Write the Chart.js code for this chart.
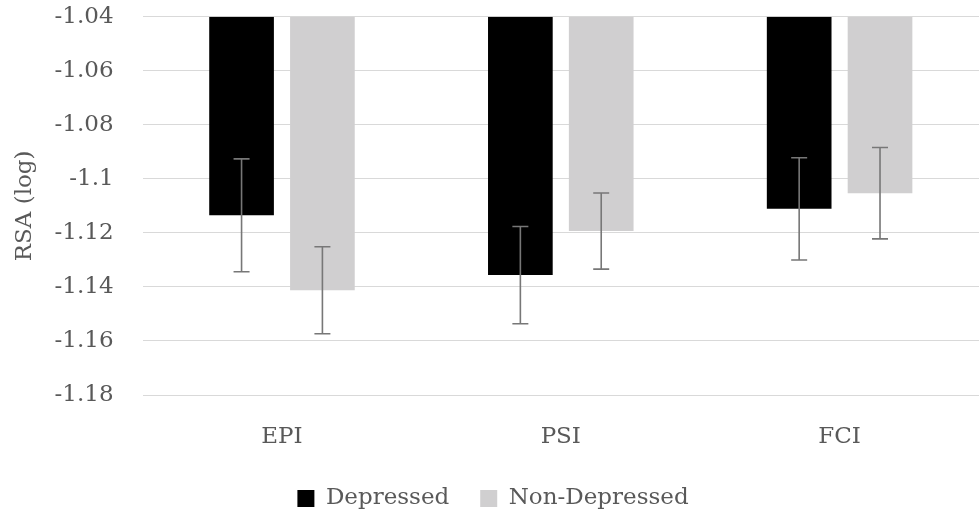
<!DOCTYPE html>
<html>
<head>
<meta charset="utf-8">
<script src="https://cdn.jsdelivr.net/npm/chart.js@4"></script>
<style>
  html, body { margin: 0; padding: 0; background: #fff; }
  #wrap { width: 979px; height: 515px; position: relative; }
</style>
</head>
<body>
<div id="wrap"><canvas id="rsaChart"></canvas></div>
<script>
// RSA (log) por condición
const categorias = ['EPI', 'PSI', 'FCI'];
const deprimidos = [-1.1135, -1.1356, -1.1111];
const noDeprimidos = [-1.1412, -1.1193, -1.1053];
const errDeprimidos = [0.0209, 0.0180, 0.0189];
const errNoDeprimidos = [0.0161, 0.0141, 0.0169];
const ticksY = [-1.18, -1.16, -1.14, -1.12, -1.1, -1.08, -1.06, -1.04];
const techo = -1.04; // las barras cuelgan desde arriba

const fuente = 'DejaVu Serif';
const gris = '#595959';

// Barras de error dibujadas sobre cada barra
const barrasError = {
    id: 'barrasError',
    afterDatasetsDraw(chart) {
        const ctx = chart.ctx;
        const y = chart.scales.y;
        chart.data.datasets.forEach((ds, i) => {
            const meta = chart.getDatasetMeta(i);
            meta.data.forEach((bar, j) => {
                const v = ds.data[j][1];
                const e = ds.errores[j];
                const arriba = y.getPixelForValue(v + e);
                const abajo = y.getPixelForValue(v - e);
                ctx.save();
                ctx.strokeStyle = '#777777';
                ctx.lineWidth = 1.6;
                ctx.beginPath();
                ctx.moveTo(bar.x, arriba);
                ctx.lineTo(bar.x, abajo);
                ctx.moveTo(bar.x - 8, arriba);
                ctx.lineTo(bar.x + 8, arriba);
                ctx.moveTo(bar.x - 8, abajo);
                ctx.lineTo(bar.x + 8, abajo);
                ctx.stroke();
                ctx.restore();
            });
        });
    }
};

const ctx = document.getElementById('rsaChart').getContext('2d');
const rsaChart = new Chart(ctx, {
    type: 'bar',
    data: {
        labels: categorias,
        datasets: [{
            label: 'Depressed',
            data: deprimidos.map(v => [techo, v]),
            errores: errDeprimidos,
            backgroundColor: '#000000',
            categoryPercentage: 0.58,
            barPercentage: 0.8
        }, {
            label: 'Non-Depressed',
            data: noDeprimidos.map(v => [techo, v]),
            errores: errNoDeprimidos,
            backgroundColor: '#d0cfd0',
            categoryPercentage: 0.58,
            barPercentage: 0.8
        }]
    },
    options: {
        responsive: true,
        maintainAspectRatio: false,
        animation: false,
        layout: { padding: { left: 7, top: 0, right: 0, bottom: -5 } },
        scales: {
            x: {
                grid: { display: false, drawTicks: false },
                border: { display: false },
                ticks: { color: gris, font: { family: fuente, size: 23 }, padding: 28 },
                afterFit: (axis) => { axis.height = 61; }
            },
            y: {
                min: -1.18,
                max: -1.04,
                afterBuildTicks: (axis) => { axis.ticks = ticksY.map(v => ({ value: v })); },
                // marcas invisibles para separar las etiquetas del área
                grid: { color: '#d9d9d9', lineWidth: 1, drawTicks: true, tickLength: 26, tickColor: 'rgba(0,0,0,0)' },
                border: { display: false },
                ticks: {
                    color: gris,
                    font: { family: fuente, size: 23 },
                    padding: 3,
                    callback: (v) => String(parseFloat(Number(v).toFixed(2)))
                },
                title: {
                    display: true,
                    text: 'RSA (log)',
                    color: gris,
                    font: { family: fuente, size: 23 },
                    padding: { top: 4, bottom: 13 }
                }
            }
        },
        plugins: {
            legend: {
                position: 'bottom',
                labels: {
                    color: gris,
                    font: { family: fuente, size: 23 },
                    boxWidth: 17,
                    boxHeight: 17,
                    padding: 31
                }
            },
            tooltip: { enabled: false }
        }
    },
    plugins: [barrasError]
});
</script>
</body>
</html>
